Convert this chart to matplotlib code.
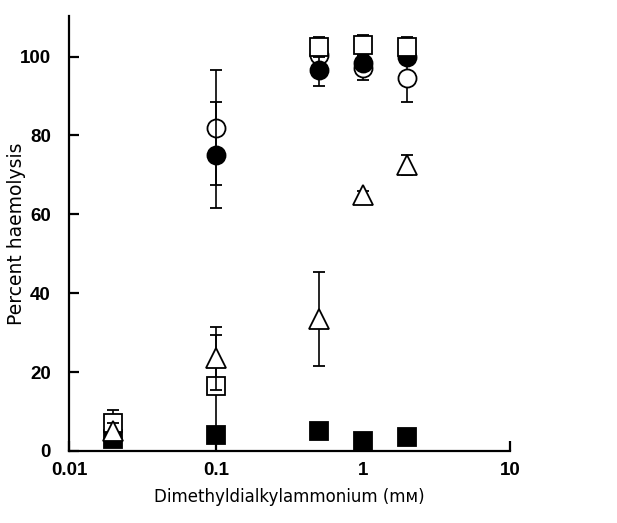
import numpy as np
import matplotlib
matplotlib.use("Agg")
import matplotlib.pyplot as plt

# concentration (mM)
conc = [0.02, 0.1, 0.5, 1, 2]

# percent haemolysis per series, with error bars
open_circle = [np.nan, 82, 100.5, 97, 94.5]
open_circle_err = [0, 14.5, 2, 3, 6]
filled_circle = [np.nan, 75, 96.5, 98.5, 100]
filled_circle_err = [0, 13.5, 4, 2, 1.5]
open_square = [7, 16.5, 102.5, 103, 102.5]
open_square_err = [3.5, 13, 2.5, 2.5, 2.5]
open_triangle = [5, 23.5, 33.5, 65, 72.5]
open_triangle_err = [2, 8, 12, 0.8, 2.5]
filled_square = [3, 4, 5, 2.5, 3.5]
filled_square_err = [0.5, 0.5, 0.5, 0.5, 0.5]

xticks = [0.01, 0.1, 1, 10]
xticklabels = ["0.01", "0.1", "1", "10"]
yticks = [0, 20, 40, 60, 80, 100]

fig = plt.figure(figsize=(6.17, 5.23), dpi=100)
ax = fig.add_axes([0.1118, 0.1377, 0.7148, 0.8317])

series = [
    (filled_square, filled_square_err, "s", "black", 12.5),
    (open_circle, open_circle_err, "o", "white", 13),
    (filled_circle, filled_circle_err, "o", "black", 13),
    (open_square, open_square_err, "s", "white", 12.5),
    (open_triangle, open_triangle_err, "^", "white", 14),
]
for z, (vals, err, mk, fc, ms) in enumerate(series):
    ax.errorbar(conc, vals, yerr=err, fmt=mk, ms=ms, mfc=fc, mec="black",
                mew=1.3, ecolor="black", elinewidth=1.2, capsize=4.2,
                capthick=1.6, zorder=3 + z, clip_on=False)

ax.set_xscale("log")
ax.set_xlim(0.01, 10)
ax.set_ylim(0, 110.3)
ax.set_xticks(xticks)
ax.set_xticklabels(xticklabels)
ax.set_yticks(yticks)
ax.minorticks_off()

for s in ["top", "right"]:
    ax.spines[s].set_visible(False)
for s in ["left", "bottom"]:
    ax.spines[s].set_linewidth(1.6)

ax.tick_params(axis="both", direction="in", length=7, width=1.6)
ax.tick_params(axis="y", pad=13)
ax.tick_params(axis="x", pad=8)
for lbl in ax.get_xticklabels() + ax.get_yticklabels():
    lbl.set_fontfamily(["Liberation Sans Narrow", "Liberation Sans"])
    lbl.set_fontweight("bold")
    lbl.set_fontsize(13.5)

ax.set_xlabel("Dimethyldialkylammonium (m\u1d0d)", fontsize=12)
ax.xaxis.set_label_coords(0.5, -0.085)
ax.set_ylabel("Percent haemolysis", fontsize=13.5)
ax.yaxis.set_label_coords(-0.098, 0.5)

fig.savefig("out.png", dpi=100)
